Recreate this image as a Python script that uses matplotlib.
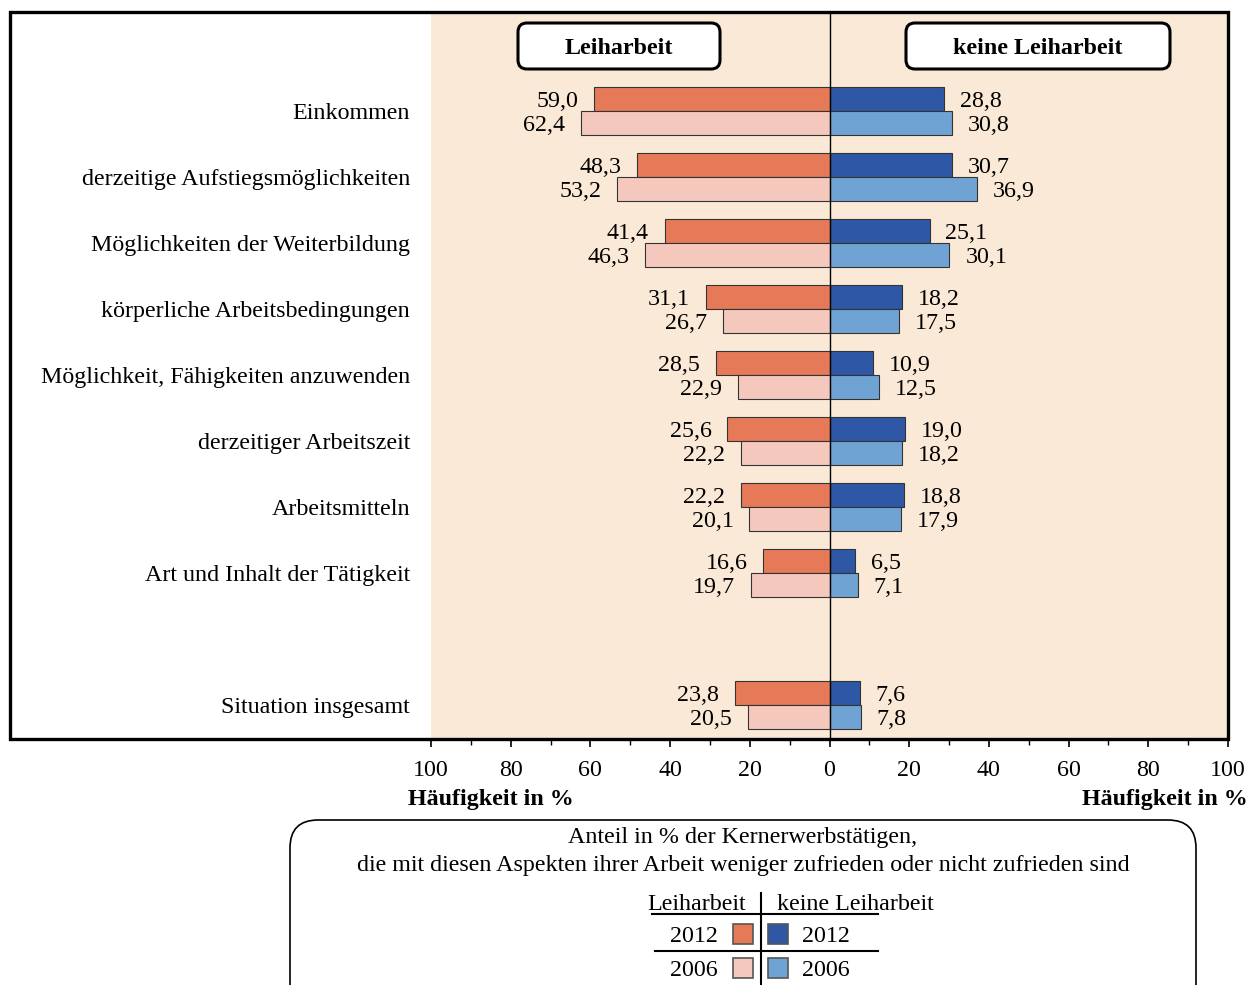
import matplotlib
matplotlib.use("Agg")
import matplotlib.pyplot as plt
from matplotlib.patches import FancyBboxPatch, Rectangle
from matplotlib.ticker import MultipleLocator, FuncFormatter

plt.rcParams['font.family'] = ['Liberation Serif', 'DejaVu Serif']

categories = ["Einkommen", "derzeitige Aufstiegsmöglichkeiten", "Möglichkeiten der Weiterbildung",
              "körperliche Arbeitsbedingungen", "Möglichkeit, Fähigkeiten anzuwenden",
              "derzeitiger Arbeitszeit", "Arbeitsmitteln", "Art und Inhalt der Tätigkeit",
              "Situation insgesamt"]
slots = [0, 1, 2, 3, 4, 5, 6, 7, 9]
leih_2012 = [59.0, 48.3, 41.4, 31.1, 28.5, 25.6, 22.2, 16.6, 23.8]
leih_2006 = [62.4, 53.2, 46.3, 26.7, 22.9, 22.2, 20.1, 19.7, 20.5]
keine_2012 = [28.8, 30.7, 25.1, 18.2, 10.9, 19.0, 18.8, 6.5, 7.6]
keine_2006 = [30.8, 36.9, 30.1, 17.5, 12.5, 18.2, 17.9, 7.1, 7.8]

C_L12 = "#E67A58"
C_L06 = "#F5C8BD"
C_K12 = "#2E58A6"
C_K06 = "#6FA3D3"
PEACH = "#FAE9D6"
EDGE = "#333333"
FS = 17.25

W, H = 1248, 985
fig = plt.figure(figsize=(W / 100, H / 100), dpi=100)

def fx(px):
    return px / W

def fy(py):
    return 1 - py / H

# main axes: x 431..1228, y 12..739
ax = fig.add_axes([fx(431), fy(739), fx(1228) - fx(431), fy(12) - fy(739)])
ax.set_facecolor(PEACH)
ax.set_xlim(-100, 100)
ax.set_ylim(9.515, -1.5)
for s in ax.spines.values():
    s.set_visible(False)

bh = 24 / 66
y12 = [s - bh / 2 for s in slots]
y06 = [s + bh / 2 for s in slots]
ax.barh(y12, [-v for v in leih_2012], height=bh, color=C_L12, edgecolor=EDGE, linewidth=0.8, zorder=3)
ax.barh(y06, [-v for v in leih_2006], height=bh, color=C_L06, edgecolor=EDGE, linewidth=0.8, zorder=3)
ax.barh(y12, keine_2012, height=bh, color=C_K12, edgecolor=EDGE, linewidth=0.8, zorder=3)
ax.barh(y06, keine_2006, height=bh, color=C_K06, edgecolor=EDGE, linewidth=0.8, zorder=3)
ax.axvline(0, color="black", lw=1.0, zorder=4)

def fmt(v):
    return f"{v:.1f}".replace(".", ",")

off = 4.0
dy = 0.04
for yy, v in zip(y12, leih_2012):
    ax.text(-v - off, yy + dy, fmt(v), ha="right", va="center", fontsize=FS)
for yy, v in zip(y06, leih_2006):
    ax.text(-v - off, yy + dy, fmt(v), ha="right", va="center", fontsize=FS)
for yy, v in zip(y12, keine_2012):
    ax.text(v + off, yy + dy, fmt(v), ha="left", va="center", fontsize=FS)
for yy, v in zip(y06, keine_2006):
    ax.text(v + off, yy + dy, fmt(v), ha="left", va="center", fontsize=FS)

ax.set_yticks(slots)
ax.set_yticklabels(categories, fontsize=FS)
ax.tick_params(axis="y", length=0, pad=15)
ax.xaxis.set_major_locator(MultipleLocator(20))
ax.xaxis.set_minor_locator(MultipleLocator(10))
ax.xaxis.set_major_formatter(FuncFormatter(lambda v, p: f"{abs(v):.0f}"))
ax.tick_params(axis="x", which="major", length=6, width=1.2, labelsize=FS, pad=9, direction="out")
ax.tick_params(axis="x", which="minor", length=4, width=1.0, direction="out")

# overlay in pixel coordinates
ov = fig.add_axes([0, 0, 1, 1], zorder=10)
ov.set_xlim(0, W)
ov.set_ylim(H, 0)
ov.axis("off")
ov.patch.set_visible(False)

ov.add_patch(Rectangle((10, 12), 1218, 727, fill=False, edgecolor="black", lw=2.4))

def rbox(x0, y0, x1, y1, r, lw):
    ov.add_patch(FancyBboxPatch((x0, y0), x1 - x0, y1 - y0,
                                boxstyle=f"round,pad=0,rounding_size={r}",
                                facecolor="white", edgecolor="black", lw=lw))

rbox(518, 23, 720, 69, 9, 2.2)
rbox(906, 23, 1170, 69, 9, 2.2)
ov.text(619, 49, "Leiharbeit", ha="center", va="center", fontsize=FS, fontweight="bold")
ov.text(1038, 49, "keine Leiharbeit", ha="center", va="center", fontsize=FS, fontweight="bold")

ov.text(491, 799, "Häufigkeit in %", ha="center", va="center", fontsize=FS, fontweight="bold")
ov.text(1248, 799, "Häufigkeit in %", ha="right", va="center", fontsize=FS, fontweight="bold")

# legend box
rbox(290, 820, 1196, 1010, 28, 1.2)
ov.text(743, 838, "Anteil in % der Kernerwerbstätigen,", ha="center", va="center", fontsize=FS)
ov.text(743, 865, "die mit diesen Aspekten ihrer Arbeit weniger zufrieden oder nicht zufrieden sind",
        ha="center", va="center", fontsize=FS)
ov.text(746, 904, "Leiharbeit", ha="right", va="center", fontsize=FS)
ov.text(777, 904, "keine Leiharbeit", ha="left", va="center", fontsize=FS)
ov.plot([761, 761], [893, 990], color="black", lw=1.5)
ov.plot([652, 878], [914, 914], color="black", lw=1.5)
ov.plot([655, 878], [951, 951], color="black", lw=1.5)
ov.text(718, 937, "2012", ha="right", va="center", fontsize=FS)
ov.text(718, 971, "2006", ha="right", va="center", fontsize=FS)
ov.text(802, 937, "2012", ha="left", va="center", fontsize=FS)
ov.text(802, 971, "2006", ha="left", va="center", fontsize=FS)
for (x0, y0, c) in [(733, 924, C_L12), (733, 958, C_L06), (768, 924, C_K12), (768, 958, C_K06)]:
    ov.add_patch(Rectangle((x0, y0), 20, 20, facecolor=c, edgecolor="#555555", lw=1.2))

fig.savefig("out.png", dpi=100)
